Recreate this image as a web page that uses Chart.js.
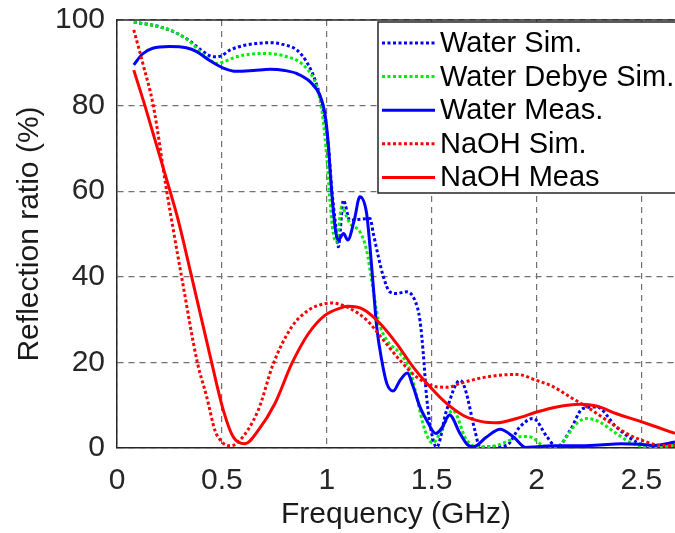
<!DOCTYPE html>
<html>
<head>
<meta charset="utf-8">
<script src="https://cdn.jsdelivr.net/npm/chart.js@4.4.1/dist/chart.umd.min.js"></script>
<style>
  html, body { margin: 0; padding: 0; background: #fff; }
  canvas { display: block; }
</style>
</head>
<body>
<canvas id="chart" width="675" height="533"></canvas>
<script>
// values (frequency in GHz, reflection ratio in %)
const seriesNames = ['Water Sim.', 'Water Debye Sim.', 'Water Meas.', 'NaOH Sim.', 'NaOH Meas'];

const waterSimFreq = [0.08, 0.205, 0.285, 0.35, 0.40, 0.46, 0.49, 0.54, 0.60, 0.666, 0.73, 0.79, 0.857, 0.904, 0.944, 0.983, 1.007, 1.023, 1.04, 1.055, 1.079, 1.11, 1.15, 1.206, 1.222, 1.246, 1.27, 1.30, 1.333, 1.38, 1.42, 1.444, 1.46, 1.476, 1.50, 1.524, 1.571, 1.635, 1.659, 1.706, 1.73, 1.80, 1.857, 1.92, 1.984, 2.05, 2.096, 2.16, 2.22, 2.286, 2.38, 2.477, 2.556, 2.66];
const waterSimVal  = [99.5, 98.4, 96.9, 95.0, 93.0, 91.4, 91.5, 93.0, 94.0, 94.5, 94.7, 94.3, 93.0, 90.2, 86.0, 79.0, 71.0, 61.0, 53.0, 47.0, 57.9, 53.2, 53.4, 53.6, 50.1, 44.7, 40.0, 36.5, 36.1, 36.5, 34.5, 29.9, 22.1, 11.9, 3.4, 0.2, 8.8, 15.8, 13.9, 4.1, 0.2, 0.3, 0.6, 4.9, 6.9, 2.6, 0.2, 4.1, 9.2, 9.6, 4.9, 1.4, 0.2, 1.0];

const waterDebyeFreq = [0.08, 0.205, 0.285, 0.348, 0.396, 0.443, 0.48, 0.507, 0.57, 0.634, 0.70, 0.76, 0.81, 0.857, 0.904, 0.936, 0.96, 0.983, 1.0, 1.015, 1.031, 1.047, 1.071, 1.095, 1.11, 1.158, 1.19, 1.214, 1.246, 1.286, 1.349, 1.397, 1.429, 1.468, 1.505, 1.55, 1.60, 1.667, 1.73, 1.81, 1.873, 1.93, 1.97, 2.03, 2.096, 2.143, 2.19, 2.24, 2.30, 2.38, 2.46, 2.54, 2.66];
const waterDebyeVal  = [99.5, 98.4, 96.9, 94.9, 92.6, 90.6, 89.8, 90.2, 91.4, 92.0, 92.2, 92.0, 91.4, 90.6, 88.7, 86.4, 83.2, 76.5, 68.0, 57.9, 50.1, 48.2, 56.3, 54.0, 52.5, 50.5, 46.2, 39.2, 29.9, 25.2, 22.1, 18.2, 11.9, 4.1, 1.2, 4.5, 8.8, 1.8, 0.2, 0.6, 1.8, 2.7, 2.6, 0.6, 0.1, 2.6, 5.7, 6.9, 6.1, 3.4, 1.0, 0.1, 0.6];

const waterMeasFreq = [0.08, 0.12, 0.17, 0.25, 0.33, 0.38, 0.44, 0.51, 0.57, 0.65, 0.73, 0.80, 0.857, 0.92, 0.968, 0.991, 1.007, 1.018, 1.031, 1.044, 1.055, 1.08, 1.10, 1.13, 1.158, 1.19, 1.206, 1.222, 1.238, 1.262, 1.286, 1.317, 1.349, 1.384, 1.412, 1.444, 1.476, 1.52, 1.55, 1.585, 1.635, 1.67, 1.70, 1.76, 1.826, 1.89, 1.95, 2.0, 2.08, 2.2, 2.3, 2.40, 2.49, 2.56, 2.66];
const waterMeasVal  = [89.5, 92.0, 93.4, 93.8, 93.5, 92.6, 90.6, 88.7, 88.0, 88.2, 88.5, 88.2, 87.5, 85.6, 82.3, 78.2, 71.2, 63.4, 55.6, 50.1, 48.6, 50.1, 48.6, 53.0, 58.7, 54.8, 47.0, 37.6, 28.3, 20.5, 15.1, 13.3, 15.8, 17.5, 14.3, 9.6, 6.5, 3.4, 4.8, 7.7, 3.4, 0.8, 0.3, 2.5, 4.4, 2.6, 0.1, 0.3, 0.5, 0.5, 0.7, 1.0, 0.9, 0.6, 1.4];

const naohSimFreq = [0.08, 0.125, 0.173, 0.237, 0.27, 0.308, 0.383, 0.428, 0.467, 0.49, 0.515, 0.54, 0.578, 0.673, 0.745, 0.833, 0.912, 0.96, 1.02, 1.11, 1.19, 1.27, 1.349, 1.428, 1.524, 1.58, 1.635, 1.762, 1.905, 2.0, 2.08, 2.16, 2.24, 2.334, 2.43, 2.525, 2.60, 2.66];
const naohSimVal  = [97.7, 89.5, 80.0, 60.0, 50.5, 40.0, 20.0, 11.9, 4.1, 2.0, 0.8, 0.5, 1.4, 8.8, 19.7, 28.3, 32.2, 33.3, 33.9, 32.6, 29.9, 25.2, 20.5, 16.6, 14.3, 14.2, 15.1, 16.6, 17.2, 15.8, 14.3, 11.9, 9.6, 6.5, 3.4, 1.4, 0.6, 0.6];

const naohMeasFreq = [0.08, 0.133, 0.253, 0.292, 0.356, 0.451, 0.507, 0.554, 0.61, 0.673, 0.753, 0.833, 0.912, 0.991, 1.071, 1.10, 1.174, 1.254, 1.333, 1.412, 1.492, 1.571, 1.651, 1.746, 1.81, 1.905, 2.0, 2.096, 2.207, 2.286, 2.382, 2.477, 2.573, 2.66];
const naohMeasVal  = [88.3, 80.0, 60.0, 53.2, 40.0, 20.0, 8.8, 2.6, 1.0, 4.1, 10.4, 19.7, 26.7, 31.0, 32.8, 33.1, 32.4, 29.1, 24.4, 18.9, 14.3, 10.4, 7.6, 6.1, 5.9, 6.9, 8.4, 9.6, 10.2, 9.8, 8.0, 6.5, 4.9, 3.4];

const xTicks = [0, 0.5, 1, 1.5, 2, 2.5];
const yTicks = [0, 20, 40, 60, 80, 100];

const pairs = (xs, ys) => xs.map((x, i) => ({ x: x, y: ys[i] }));

const dotted = [3, 2.5];
const styles = [
  { color: '#0000ff', dash: dotted },
  { color: '#00ee00', dash: dotted },
  { color: '#0000ff', dash: [] },
  { color: '#ff0000', dash: dotted },
  { color: '#ff0000', dash: [] }
];
const values = [
  pairs(waterSimFreq, waterSimVal),
  pairs(waterDebyeFreq, waterDebyeVal),
  pairs(waterMeasFreq, waterMeasVal),
  pairs(naohSimFreq, naohSimVal),
  pairs(naohMeasFreq, naohMeasVal)
];

const datasets = seriesNames.map((name, i) => ({
  label: name,
  data: values[i],
  borderColor: styles[i].color,
  borderDash: styles[i].dash,
  borderWidth: 3,
  borderCapStyle: 'butt',
  pointRadius: 0,
  fill: false,
  cubicInterpolationMode: 'monotone',
  // later series sit on top, like the original plot
  order: seriesNames.length - i
}));

const fontFamily = '"Liberation Sans", Arial, sans-serif';
const axisColor = '#262626';

// top edge of the axes box and the legend inside the plot
const boxAndLegend = {
  id: 'boxAndLegend',
  afterDatasetsDraw(chart) {
    const { ctx, chartArea } = chart;
    ctx.save();
    ctx.strokeStyle = axisColor;
    ctx.lineWidth = 1.5;
    ctx.beginPath();
    ctx.moveTo(chartArea.left, chartArea.top);
    ctx.lineTo(chartArea.right, chartArea.top);
    ctx.stroke();

    const left = chartArea.left + 261;
    const top = chartArea.top + 2;
    const rowH = 33.6;
    ctx.fillStyle = '#fff';
    ctx.fillRect(left, top, 320, 171);
    ctx.strokeStyle = axisColor;
    ctx.lineWidth = 1.5;
    ctx.strokeRect(left, top, 320, 171);

    ctx.font = '29px ' + fontFamily;
    ctx.textBaseline = 'middle';
    ctx.textAlign = 'left';
    chart.data.datasets.forEach((ds, i) => {
      const y = top + 21 + i * rowH;
      ctx.strokeStyle = ds.borderColor;
      ctx.lineWidth = 3;
      ctx.setLineDash(ds.borderDash);
      ctx.beginPath();
      ctx.moveTo(left + 4, y);
      ctx.lineTo(left + 57, y);
      ctx.stroke();
      ctx.setLineDash([]);
      ctx.fillStyle = '#000';
      ctx.fillText(ds.label, left + 62, y + 1);
    });
    ctx.restore();
  }
};

new Chart(document.getElementById('chart'), {
  type: 'line',
  data: { datasets: datasets },
  options: {
    responsive: false,
    animation: false,
    devicePixelRatio: 1,
    layout: { padding: { top: 20, right: 0, bottom: 0, left: 0 } },
    plugins: { legend: { display: false }, tooltip: { enabled: false } },
    scales: {
      x: {
        type: 'linear',
        min: 0,
        max: 2.66,
        afterBuildTicks: (scale) => { scale.ticks = xTicks.map(v => ({ value: v })); },
        afterFit: (scale) => { scale.height = 85; scale.paddingLeft = 0; scale.paddingRight = 0; },
        ticks: { color: axisColor, font: { family: fontFamily, size: 30 }, padding: 15, maxRotation: 0, callback: (v) => String(v) },
        grid: { color: '#707070', lineWidth: 1.2, drawTicks: false },
        border: { color: axisColor, width: 1.5, dash: [6, 5] },
        title: { display: true, text: 'Frequency (GHz)', color: '#1a1a1a', font: { family: fontFamily, size: 30 }, padding: { top: 0, bottom: 0 } }
      },
      y: {
        min: 0,
        max: 100,
        afterBuildTicks: (scale) => { scale.ticks = yTicks.map(v => ({ value: v })); },
        afterFit: (scale) => { scale.width = 117; scale.paddingTop = 0; scale.paddingBottom = 0; },
        ticks: { color: axisColor, font: { family: fontFamily, size: 30 }, padding: 12, callback: (v) => String(v) },
        grid: { color: '#707070', lineWidth: 1.2, drawTicks: false },
        border: { color: axisColor, width: 1.5, dash: [6, 5] },
        title: { display: true, text: 'Reflection ratio (%)', color: '#1a1a1a', font: { family: fontFamily, size: 30 }, padding: { top: 12, bottom: 0 } }
      }
    }
  },
  plugins: [boxAndLegend]
});
</script>
</body>
</html>
